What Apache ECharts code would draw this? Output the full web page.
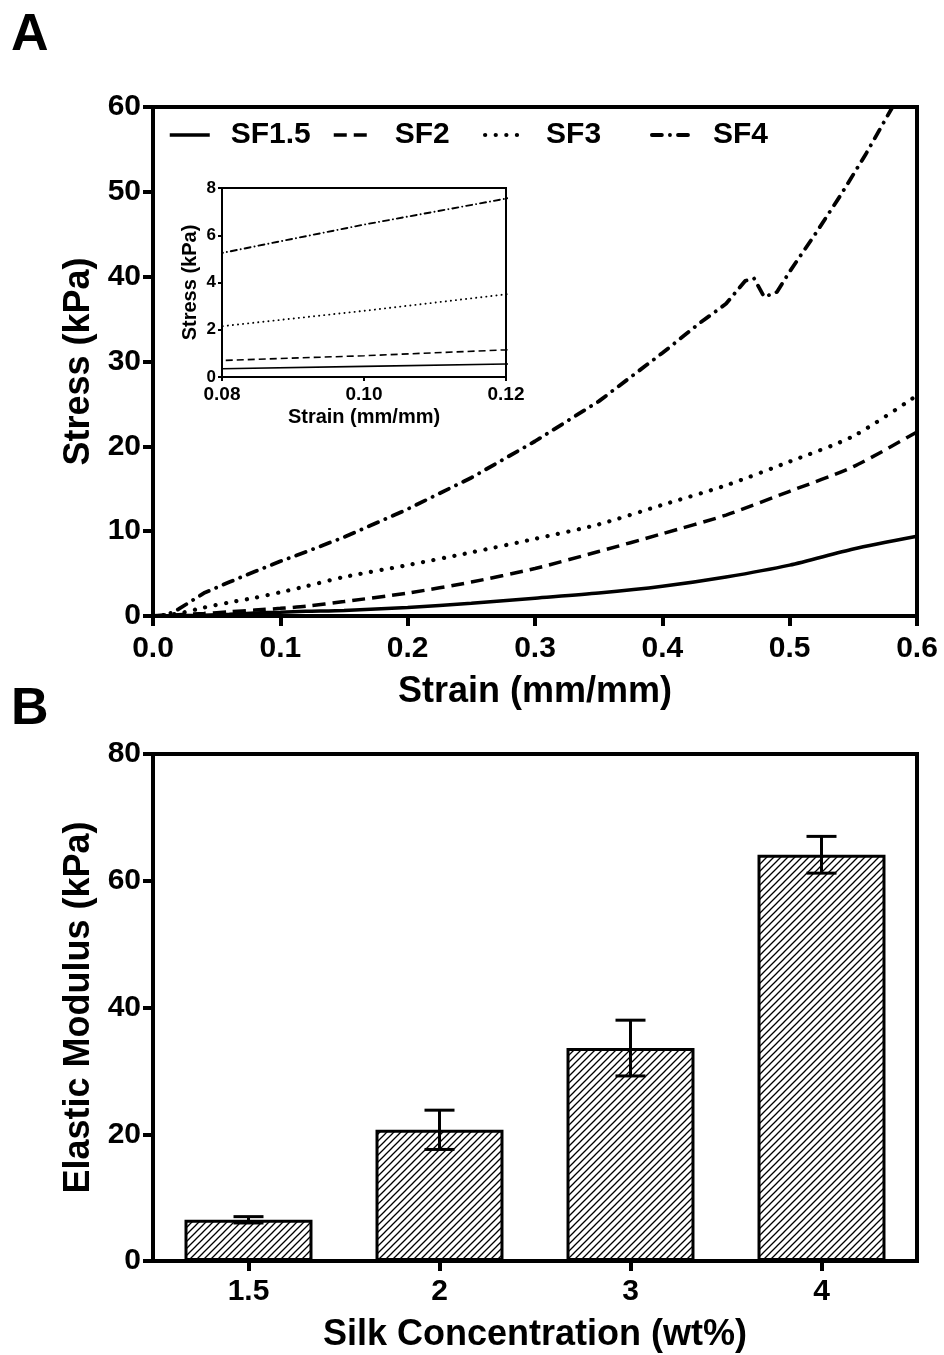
<!DOCTYPE html>
<html>
<head>
<meta charset="utf-8">
<title>Stress-strain and elastic modulus</title>
<script src="https://cdn.jsdelivr.net/npm/echarts@6/dist/echarts.min.js"></script>
<style>
html, body { margin: 0; padding: 0; background: #fff; }
#main { width: 944px; height: 1355px; }
</style>
</head>
<body>
<div id="main"></div>
<script>
// panel A: stress (kPa) against strain (mm/mm)
var strain = [0, 0.02, 0.04, 0.06, 0.08, 0.10, 0.12, 0.15, 0.20, 0.25, 0.30, 0.35, 0.40, 0.45, 0.50, 0.55, 0.60];
var sf15 = [0, 0.05, 0.1, 0.2, 0.35, 0.45, 0.55, 0.65, 1.0, 1.5, 2.1, 2.7, 3.5, 4.6, 6.0, 7.9, 9.4];
var sf2 = [0, 0.15, 0.3, 0.5, 0.7, 0.9, 1.15, 1.7, 2.7, 4.0, 5.6, 7.6, 9.7, 11.9, 14.7, 17.6, 21.7];
var sf3 = [0, 0.3, 1.0, 1.6, 2.15, 2.8, 3.5, 4.6, 6.0, 7.5, 9.1, 10.8, 13.1, 15.4, 18.2, 21.2, 26.0];
var strain4 = [0, 0.01, 0.02, 0.04, 0.06, 0.08, 0.10, 0.12, 0.15, 0.20, 0.25, 0.30, 0.35, 0.40, 0.43, 0.45, 0.465, 0.472, 0.48, 0.49, 0.50, 0.52, 0.54, 0.56, 0.58, 0.585];
var sf4 = [0, 0.1, 0.8, 2.7, 4.0, 5.25, 6.45, 7.55, 9.3, 12.6, 16.3, 20.6, 25.3, 31.0, 34.6, 36.8, 39.5, 39.8, 37.6, 38.2, 40.6, 45.0, 49.6, 54.5, 59.8, 61.0];
var names = ['SF1.5', 'SF2', 'SF3', 'SF4'];

// panel B: elastic modulus (kPa) by silk concentration
var conc = ['1.5', '2', '3', '4'];
var modulus = [6.5, 20.7, 33.6, 64.1];
var modulusSd = [0.5, 3.1, 4.4, 2.9];

function pairs(xs, ys) {
    return xs.map(function (x, i) { return [x, ys[i]]; });
}
var curves = [pairs(strain, sf15), pairs(strain, sf2), pairs(strain, sf3), pairs(strain4, sf4)];

// line looks: solid, dashed, dotted, dash-dot
var mainStyles = [
    { type: 'solid', width: 3.5, cap: 'butt' },
    { type: [13, 7], width: 3.5, cap: 'butt' },
    { type: [0.1, 10.5], width: 4.2, cap: 'round' },
    { type: [10, 8, 0.1, 8], width: 3.8, cap: 'round' }
];
var insetStyles = [
    { type: 'solid', width: 1.6, cap: 'butt' },
    { type: [7, 4], width: 1.6, cap: 'butt' },
    { type: [0.1, 5], width: 1.9, cap: 'round' },
    { type: [6, 4, 0.1, 4], width: 1.9, cap: 'round' }
];
var legendLeft = [168, 332, 483, 650];

function hatch() {
    var s = 7, c = document.createElement('canvas');
    c.width = s; c.height = s;
    var g = c.getContext('2d');
    g.fillStyle = '#fff';
    g.fillRect(0, 0, s, s);
    g.strokeStyle = '#000';
    g.lineWidth = 1.3;
    g.beginPath();
    g.moveTo(0, s); g.lineTo(s, 0);
    g.moveTo(-1, 1); g.lineTo(1, -1);
    g.moveTo(s - 1, s + 1); g.lineTo(s + 1, s - 1);
    g.stroke();
    return c;
}

var FONT = 'Liberation Sans';
var bold = function (size) {
    return { fontFamily: FONT, fontSize: size, fontWeight: 'bold', color: '#000' };
};

function bigAxis(extra) {
    var a = {
        axisLine: { show: true, onZero: false, lineStyle: { color: '#000', width: 4 } },
        axisTick: { show: true, length: 10, lineStyle: { color: '#000', width: 4 } },
        splitLine: { show: false },
        nameLocation: 'middle',
        nameTextStyle: bold(36)
    };
    for (var k in extra) a[k] = extra[k];
    return a;
}
function smallAxis(extra) {
    var a = {
        axisLine: { show: true, onZero: false, lineStyle: { color: '#000', width: 2 } },
        axisTick: { show: true, length: 4, lineStyle: { color: '#000', width: 2 } },
        splitLine: { show: false },
        nameLocation: 'middle',
        nameTextStyle: bold(20)
    };
    for (var k in extra) a[k] = extra[k];
    return a;
}

var series = [];
curves.forEach(function (d, i) {
    series.push({
        name: names[i], type: 'line', xAxisIndex: 0, yAxisIndex: 0,
        data: d, symbol: 'none', smooth: i === 3 ? false : 0.25, clip: true,
        itemStyle: { color: '#000' },
        lineStyle: { color: '#000', width: mainStyles[i].width, type: mainStyles[i].type, cap: mainStyles[i].cap }
    });
});
curves.forEach(function (d, i) {
    series.push({
        name: 'inset ' + names[i], type: 'line', xAxisIndex: 1, yAxisIndex: 1,
        data: d, symbol: 'none', clip: true, z: 5,
        itemStyle: { color: '#000' },
        lineStyle: { color: '#000', width: insetStyles[i].width, type: insetStyles[i].type, cap: insetStyles[i].cap }
    });
});
series.push({
    name: 'modulus', type: 'bar', xAxisIndex: 2, yAxisIndex: 2,
    data: modulus, barWidth: '67%',
    itemStyle: { color: { image: hatch(), repeat: 'repeat' }, borderColor: '#000', borderWidth: 3 }
});
series.push({
    name: 'sd', type: 'custom', xAxisIndex: 2, yAxisIndex: 2, z: 10,
    data: modulus.map(function (m, i) { return [i, m - modulusSd[i], m + modulusSd[i]]; }),
    renderItem: function (params, api) {
        var top = api.coord([api.value(0), api.value(2)]);
        var bot = api.coord([api.value(0), api.value(1)]);
        var w = 15, st = { stroke: '#000', lineWidth: 3 };
        return {
            type: 'group', children: [
                { type: 'line', shape: { x1: top[0], y1: top[1], x2: bot[0], y2: bot[1] }, style: st },
                { type: 'line', shape: { x1: top[0] - w, y1: top[1], x2: top[0] + w, y2: top[1] }, style: st },
                { type: 'line', shape: { x1: bot[0] - w, y1: bot[1], x2: bot[0] + w, y2: bot[1] }, style: st }
            ]
        };
    }
});

var myChart = echarts.init(document.getElementById('main'), null, { renderer: 'canvas' });
var option = {
    animation: false,
    backgroundColor: '#fff',
    title: [
        { text: 'A', left: 6, top: 5, textStyle: bold(52) },
        { text: 'B', left: 6, top: 679, textStyle: bold(52) }
    ],
    legend: names.map(function (n, i) {
        return {
            data: [n], left: legendLeft[i], top: 120, padding: 0,
            itemWidth: 40, itemHeight: 16, selectedMode: false,
            itemStyle: { opacity: 0 },
            lineStyle: { color: '#000', width: mainStyles[i].width },
            textStyle: { fontFamily: FONT, fontSize: 30, fontWeight: 'bold', color: '#000', padding: [0, 0, 0, 16] }
        };
    }),
    grid: [
        { left: 153, top: 107, width: 764, height: 509, show: true, borderColor: '#000', borderWidth: 4, backgroundColor: 'transparent' },
        { left: 222, top: 188, width: 284, height: 189, show: true, borderColor: '#000', borderWidth: 2, backgroundColor: '#fff', z: 4 },
        { left: 153, top: 754, width: 764, height: 507, show: true, borderColor: '#000', borderWidth: 4, backgroundColor: 'transparent' }
    ],
    xAxis: [
        bigAxis({
            type: 'value', gridIndex: 0, min: 0, max: 0.6, interval: 0.1,
            name: 'Strain (mm/mm)', nameGap: 58,
            axisLabel: { fontFamily: FONT, fontSize: 30, fontWeight: 'bold', color: '#000', margin: 18,
                formatter: function (v) { return v.toFixed(1); } }
        }),
        smallAxis({
            type: 'value', gridIndex: 1, min: 0.08, max: 0.12, interval: 0.02, z: 6,
            name: 'Strain (mm/mm)', nameGap: 30,
            axisLabel: { fontFamily: FONT, fontSize: 19, fontWeight: 'bold', color: '#000', margin: 8,
                formatter: function (v) { return v.toFixed(2); } }
        }),
        bigAxis({
            type: 'category', gridIndex: 2, data: conc,
            name: 'Silk Concentration (wt%)', nameGap: 56,
            axisTick: { show: true, alignWithLabel: true, length: 10, lineStyle: { color: '#000', width: 4 } },
            axisLabel: { fontFamily: FONT, fontSize: 30, fontWeight: 'bold', color: '#000', margin: 16 }
        })
    ],
    yAxis: [
        bigAxis({
            type: 'value', gridIndex: 0, min: 0, max: 60, interval: 10,
            name: 'Stress (kPa)', nameGap: 54,
            axisLabel: { fontFamily: FONT, fontSize: 30, fontWeight: 'bold', color: '#000', margin: 12 }
        }),
        smallAxis({
            type: 'value', gridIndex: 1, min: 0, max: 8, interval: 2, z: 6,
            name: 'Stress (kPa)', nameGap: 22,
            axisLabel: { fontFamily: FONT, fontSize: 17, fontWeight: 'bold', color: '#000', margin: 6 }
        }),
        bigAxis({
            type: 'value', gridIndex: 2, min: 0, max: 80, interval: 20,
            name: 'Elastic Modulus (kPa)', nameGap: 54,
            axisLabel: { fontFamily: FONT, fontSize: 30, fontWeight: 'bold', color: '#000', margin: 12 }
        })
    ],
    series: series
};
myChart.setOption(option);
</script>
</body>
</html>
